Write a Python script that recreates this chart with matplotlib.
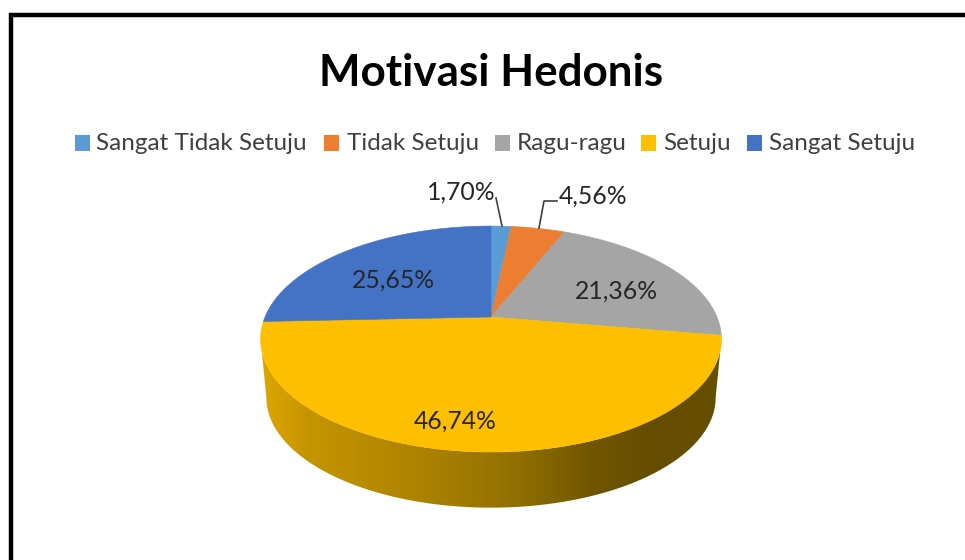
import numpy as np
import matplotlib
matplotlib.use('Agg')
from matplotlib import pyplot as plt
from matplotlib.colors import LinearSegmentedColormap
from matplotlib.patches import Polygon, Rectangle

categories = ['Sangat Tidak Setuju', 'Tidak Setuju', 'Ragu-ragu', 'Setuju', 'Sangat Setuju']
values = [1.70, 4.56, 21.36, 46.74, 25.65]
labels = ['1,70%', '4,56%', '21,36%', '46,74%', '25,65%']
colors = ['#5B9BD5', '#ED7D31', '#A5A5A5', '#FDBF00', '#4472C4']

plt.rcParams['font.family'] = ['Lato', 'DejaVu Sans']

# pie geometry in image pixels
cx, cy = 491.0, 317.0
rx, ry = 226.0, 108.7
k = 0.195
wall_scale = 0.975
wall_cy = 376.0


def project(t, center_y=cy, scale=1.0):
    # t is clockwise from 12 o'clock, far side is squeezed a bit
    w = 1 + k * np.cos(t)
    return cx + scale * rx * np.sin(t) / w, center_y - scale * ry * np.cos(t) / w


fig = plt.figure(figsize=(9.65, 5.6), dpi=100)
ax = fig.add_axes([0, 0, 1, 1])

# side wall with the horizontal gradient
t_ext = np.arccos(-k)
ts = np.linspace(t_ext, 2 * np.pi - t_ext, 200)
x_top, y_top = project(ts)
x_bot, y_bot = project(ts, wall_cy, wall_scale)
wall_xy = np.column_stack([np.r_[x_top, x_bot[::-1]], np.r_[y_top, y_bot[::-1]]])
wall = Polygon(wall_xy, closed=True, facecolor='none', edgecolor='none')
ax.add_patch(wall)
cmap = LinearSegmentedColormap.from_list('wall', [
    (0.00, '#DCA700'), (0.10, '#C59500'), (0.35, '#AC8200'), (0.55, '#927000'),
    (0.72, '#705600'), (0.85, '#644D00'), (1.00, '#674F00')])
img = ax.imshow(np.linspace(0, 1, 256).reshape(1, -1), cmap=cmap, aspect='auto',
                extent=(261, 722, 520, 320), zorder=1)
img.set_clip_path(wall)

# top slices
start = 0.0
total = sum(values)
for value, color in zip(values, colors):
    end = start + value / total * 2 * np.pi
    arc = np.linspace(start, end, 200)
    xs, ys = project(arc)
    ax.add_patch(Polygon(np.column_stack([np.r_[cx, xs], np.r_[cy, ys]]), closed=True,
                         facecolor=color, edgecolor=color, linewidth=0.4, zorder=2))
    start = end

# frame
ax.plot([11, 11, 965], [560, 15, 15], color='black', linewidth=3.2, zorder=3,
        solid_joinstyle='miter')

ax.text(491, 73, 'Motivasi Hedonis', fontsize=31.7, fontweight='bold', color='black',
        ha='center', va='center')

# legend
legend_box_x = [75, 324, 495, 641, 747]
legend_text_x = [96, 347, 517, 663, 769]
for name, color, bx, tx in zip(categories, colors, legend_box_x, legend_text_x):
    ax.add_patch(Rectangle((bx, 135), 15, 16, facecolor=color, edgecolor='none'))
    ax.text(tx, 144, name, fontsize=17.5, color='#404040', ha='left', va='center')

# data labels
label_pos = [(461, 192), (593, 196), (616, 291), (455, 421), (393, 280)]
for text, (lx, ly) in zip(labels, label_pos):
    ax.text(lx, ly, text, fontsize=17.8, color='#262626', ha='center', va='center', zorder=4)

# leader lines
ax.plot([496, 502], [198, 226], color='#404040', linewidth=1.2, zorder=4)
ax.plot([539, 544, 557], [228, 201, 201], color='#404040', linewidth=1.2, zorder=4)

ax.set_xlim(0, 965)
ax.set_ylim(560, 0)
ax.axis('off')
fig.savefig('out.png', dpi=100, facecolor='white')
